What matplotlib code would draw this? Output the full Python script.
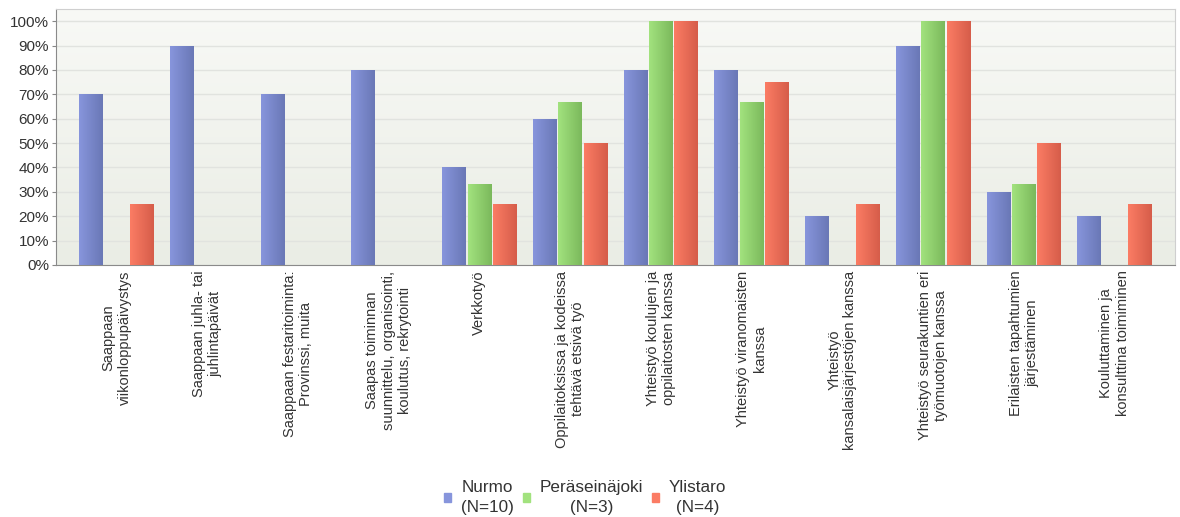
import numpy as np
import matplotlib
matplotlib.use("Agg")
import matplotlib.pyplot as plt
from matplotlib.colors import LinearSegmentedColormap

plt.rcParams['font.family'] = ['Liberation Sans', 'DejaVu Sans']

categories = ["Saappaan\nviikonloppupäivystys",
              "Saappaan juhla- tai\njuhlintapäivät",
              "Saappaan festaritoiminta:\nProvinssi, muita",
              "Saapas toiminnan\nsuunnittelu, organisointi,\nkoulutus, rekrytointi",
              "Verkkotyö",
              "Oppilaitoksissa ja kodeissa\ntehtävä etsivä työ",
              "Yhteistyö koulujen ja\noppilaitosten kanssa",
              "Yhteistyö viranomaisten\nkanssa",
              "Yhteistyö\nkansalaisjärjestöjen kanssa",
              "Yhteistyö seurakuntien eri\ntyömuotojen kanssa",
              "Erilaisten tapahtumien\njärjestäminen",
              "Kouluttaminen ja\nkonsulttina toimiminen"]
nurmo = [70, 90, 70, 80, 40, 60, 80, 80, 20, 90, 30, 20]
peraseinajoki = [0, 0, 0, 0, 33.3, 66.7, 100, 66.7, 0, 100, 33.3, 0]
ylistaro = [25, 0, 0, 0, 25, 50, 100, 75, 25, 100, 50, 25]
series_names = ["Nurmo\n(N=10)", "Peräseinäjoki\n(N=3)", "Ylistaro\n(N=4)"]
yticks = list(range(0, 101, 10))

# left/right shades of each series
shades = [("#8795dc", "#6a78b6"), ("#a2e27e", "#7bb95c"), ("#fb7c64", "#d65d4a")]

fig = plt.figure(figsize=(11.8, 5.17), dpi=100)
ax = fig.add_axes([56/1180, 1-265/517, (1175-56)/1180, (265-9)/517])

x = np.arange(len(categories))
xlo, xhi = -0.667, len(categories)-1+0.667

# background gradient
bg = LinearSegmentedColormap.from_list("bg", ["#eaede5", "#f8f9f6"])
ax.imshow(np.linspace(0, 1, 100).reshape(-1, 1), cmap=bg, aspect='auto',
          extent=[xlo, xhi, 0, 105], origin='lower', zorder=0)
for t in yticks:
    ax.axhline(t, color="#e1e3df", lw=1, zorder=1)

width = 0.26
offset = 0.28
grad = np.linspace(0, 1, 50).reshape(1, -1)
for i, vals in enumerate([nurmo, peraseinajoki, ylistaro]):
    c1, c2 = shades[i]
    cm = LinearSegmentedColormap.from_list("s%d" % i, [c1, c2])
    bars = ax.bar(x + (i-1)*offset, vals, width, color=c2, edgecolor="none",
                  label=series_names[i], zorder=2)
    for b in bars:
        if b.get_height() <= 0:
            continue
        bx, by = b.get_x(), b.get_y()
        im = ax.imshow(grad, cmap=cm, aspect='auto', zorder=3,
                       extent=[bx, bx+b.get_width(), by, by+b.get_height()])
        im.set_clip_path(b)
ax.set_xlim(xlo, xhi)
ax.set_ylim(0, 105)

ax.set_yticks(yticks)
ax.set_yticklabels(["%d%%" % t for t in yticks], fontsize=11, color="#333333")
ax.set_xticks(x)
ax.set_xticklabels(categories, rotation=90, fontsize=10.5, color="#333333",
                   ha='center', va='top', multialignment='center')
ax.tick_params(axis='x', length=0, pad=4)
ax.tick_params(axis='y', length=3, color="#888888", pad=2)
for s in ['top', 'right']:
    ax.spines[s].set_color("#cfcfcf")
for s in ['left', 'bottom']:
    ax.spines[s].set_color("#8a8a8a")

leg = fig.legend(loc='lower center', bbox_to_anchor=(0.496, -0.012), ncol=3, frameon=False,
                 fontsize=12.3, handlelength=0.4, handleheight=0.4, handletextpad=0.6,
                 columnspacing=0.5, borderpad=0.0, labelspacing=0.2)
for t in leg.get_texts():
    t.set_multialignment('center')
    t.set_linespacing(1.35)
    t.set_color("#333333")
for h, (c1, c2) in zip(leg.legend_handles, shades):
    h.set_color(c1)

fig.savefig("out.png", dpi=100)
